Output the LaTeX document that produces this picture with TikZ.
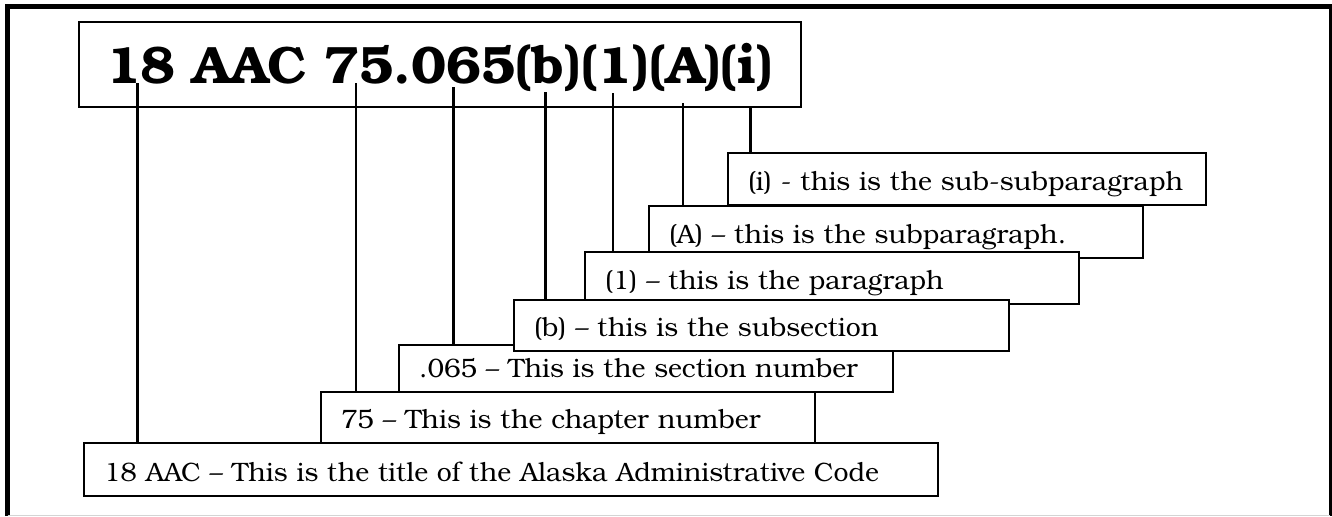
\documentclass[tikz,border=0pt]{standalone}
\usepackage{fontspec}
\setmainfont{TeX Gyre Bonum}
\usepackage{tikz}
\usetikzlibrary{calc}
\definecolor{edge-gray}{RGB}{212,212,212}
\tikzstyle{codebox}=[draw, line width=0.9pt, anchor=north west, outer sep=0pt, inner ysep=0pt, inner xsep=13.5pt, align=left, font=\bfseries\fontsize{26.3}{30}\selectfont]
\tikzstyle{partbox}=[draw, fill=white, line width=0.9pt, anchor=north west, outer sep=0pt, inner ysep=0pt, inner xsep=10pt, align=left, font=\fontsize{13.3}{16}\selectfont]
\tikzstyle{ptr heavy}=[line width=1.5pt]
\tikzstyle{ptr light}=[line width=0.85pt]
\newcommand{\partBox}[6]{
	\pgfmathsetlengthmacro{\pbw}{(#4-#2-40)*0.5pt}
	\pgfmathsetlengthmacro{\pbh}{(#5-#3-15)*0.5pt}
	\node[partbox, text width=\pbw, text height=\pbh, text depth=7.5pt] (#1) at (#2,#3) {\mbox{#6}};
}

\begin{document}
\begin{tikzpicture}[x=0.5pt, y=-0.5pt]
	\useasboundingbox (0,0) rectangle (1332,516);
	\draw[line width=2.5pt] (7.5,516) -- (7.5,6.5) -- (1332,6.5);
	\draw[line width=1.5pt] (1330,6.5) -- (1330,516);
	\draw[edge-gray, line width=0.5pt] (7.5,515) -- (1330,515);
	\node[codebox, text width=334pt, text height=30.5pt, text depth=12pt] (code) at (79,22) {\mbox{18 AAC 75.065(b)(1)(A)(i)}};
	\partBox{aac}{84}{443}{938}{496}{18 AAC – This is the title of the Alaska Administrative Code}
	\partBox{chap}{321}{392}{815}{443}{75 – This is the chapter number}
	\partBox{sect}{399}{345}{893}{392}{.065 – This is the section number}
	\partBox{subsubpar}{728}{153}{1206}{205}{(i) - this is the sub-subparagraph}
	\partBox{subpar}{649}{206}{1143}{258}{(A) – this is the subparagraph.}
	\partBox{par}{585}{252}{1079}{304}{(1) – this is the paragraph}
	\partBox{subsect}{514}{300}{1009}{351}{(b) – this is the subsection}
	\coordinate (c18) at (137,83);
	\coordinate (c75) at (356,83);
	\coordinate (c065) at (453,87);
	\coordinate (cb) at (545,92);
	\coordinate (c1) at (613,93);
	\coordinate (cA) at (683,103);
	\coordinate (ci) at (750,107);
	\draw[ptr heavy] (c18) -- (c18 |- aac.north);
	\draw[ptr light] (c75) -- (c75 |- chap.north);
	\draw[ptr heavy] (c065) -- (c065 |- sect.north);
	\draw[ptr heavy] (cb) -- (cb |- subsect.north);
	\draw[ptr light] (c1) -- (c1 |- par.north);
	\draw[ptr light] (cA) -- (cA |- subpar.north);
	\draw[ptr heavy] (ci) -- (ci |- subsubpar.north);
\end{tikzpicture}
\end{document}
